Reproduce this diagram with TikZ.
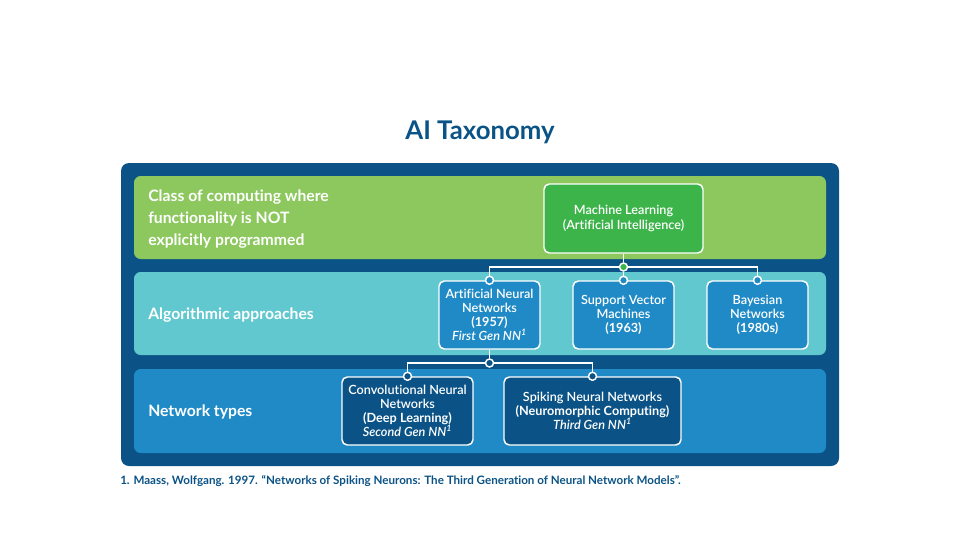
\documentclass[tikz,border=0pt]{standalone}
\usepackage{fontspec}
\setmainfont{Lato}[Ligatures=NoCommon]
\newfontfamily\semib{Lato Semibold}[Ligatures=NoCommon,BoldFont={Lato Bold},ItalicFont={Lato Semibold Italic}]
\usetikzlibrary{positioning}
\definecolor{navy}{HTML}{0B5386}
\definecolor{lgreen}{HTML}{8CC85D}
\definecolor{mlgreen}{HTML}{3CB44A}
\definecolor{teal}{HTML}{62C8CF}
\definecolor{midblue}{HTML}{1F8AC6}
\tikzset{
  taxbox/.style={draw=white,line width=1.1pt,rounded corners=4pt,text=white,align=center,inner sep=2pt,font=\semib\fontsize{9.5}{10.6}\selectfont},
  bandlabel/.style={anchor=west,text=white,align=left,inner sep=0pt,font=\fontsize{11.8}{16.3}\selectfont\bfseries},
  tdot/.style={circle,draw=white,line width=1.1pt,minimum size=6pt,inner sep=0pt},
  wire/.style={white,line width=1.1pt}
}
\newcommand{\band}[3]{\fill[#3,rounded corners=5pt] (134,#1) rectangle (826,#2);}
\newcommand{\taxbox}[7]{\node[taxbox,fill=#6,minimum width=#4pt,minimum height=#5pt] (#1) at (#2,#3) {#7};}

\begin{document}
\begin{tikzpicture}[x=0.75pt,y=-0.75pt]
    \useasboundingbox (0,0) rectangle (960,540);
    \node[text=navy,font=\fontsize{19.3}{22}\selectfont\bfseries] (title) at (480,132) {AI Taxonomy};
    \fill[navy,rounded corners=6pt] (121,163) rectangle (839,466);
    \band{176}{259}{lgreen} \band{272}{355}{teal} \band{369}{453}{midblue}
    \node[bandlabel] (lab1) at (148,219) {Class of computing where\\functionality is NOT\\explicitly programmed};
    \node[bandlabel] (lab2) at (148,315) {Algorithmic approaches};
    \node[bandlabel] (lab3) at (148,412) {Network types};

    \taxbox{ML}{623.5}{218.5}{119.25}{51.75}{mlgreen}{Machine Learning\\(Artificial Intelligence)}
    \taxbox{ANN}{489.5}{315}{75.75}{51}{midblue}{Artificial Neural\\Networks\\\textbf{(1957)}\\\textit{First Gen NN\textsuperscript{1}}}
    \taxbox{SVM}{623.5}{315}{75.75}{51}{midblue}{Support Vector\\Machines\\\textbf{(1963)}}
    \taxbox{BN}{757.5}{315}{75.75}{51}{midblue}{Bayesian\\Networks\\\textbf{(1980s)}}
    \taxbox{CNN}{407.5}{411}{98.25}{51}{navy}{Convolutional Neural\\Networks\\\textbf{(Deep Learning)}\\\textit{Second Gen NN\textsuperscript{1}}}
    \taxbox{SNN}{592.5}{411}{132.75}{51}{navy}{Spiking Neural Networks\\\textbf{(Neuromorphic Computing)}\\\textit{Third Gen NN\textsuperscript{1}}}

    % junctions and wires
    \node[tdot,fill=mlgreen] (j0) at (623.5,267) {};
    \node[tdot,fill=midblue] (dANN) at (ANN.north) {};
    \node[tdot,fill=midblue] (dSVM) at (SVM.north) {};
    \node[tdot,fill=midblue] (dBN) at (BN.north) {};
    \node[tdot,fill=navy] (j1) at (489.5,363) {};
    \node[tdot,fill=navy] (dCNN) at (CNN.north) {};
    \node[tdot,fill=navy] (dSNN) at (SNN.north) {};
    \draw[wire] (ML) -- (j0); \draw[wire] (j0) -| (dANN); \draw[wire] (j0) -- (dSVM); \draw[wire] (j0) -| (dBN);
    \draw[wire] (ANN) -- (j1); \draw[wire] (j1) -| (dCNN); \draw[wire] (j1) -| (dSNN);

    \node[anchor=west,text=navy,inner sep=0pt,font=\fontsize{8.7}{10}\selectfont\bfseries] (note) at (120,481)
      {1. Maass, Wolfgang. 1997. “Networks of Spiking Neurons: The Third Generation of Neural Network Models”.};
\end{tikzpicture}
\end{document}
